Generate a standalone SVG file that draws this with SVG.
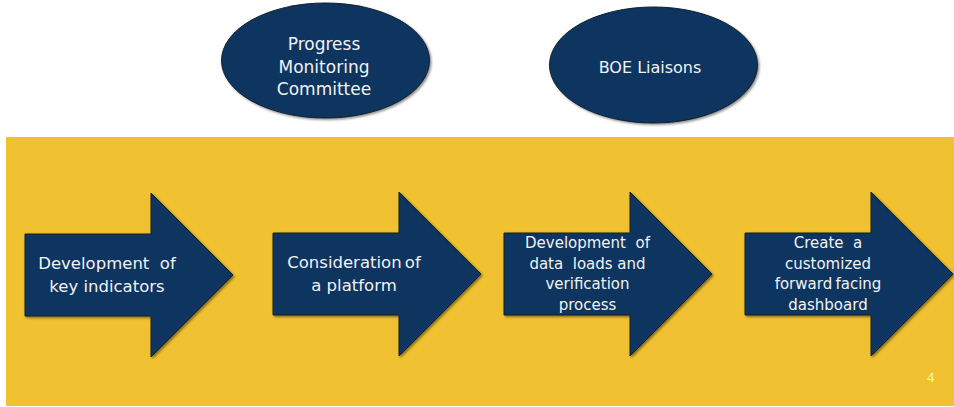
<svg xmlns="http://www.w3.org/2000/svg" width="954" height="407" viewBox="0 0 954 407">
<defs>
<filter id="sh" x="-10%" y="-10%" width="125%" height="125%">
<feDropShadow dx="1.5" dy="1.5" stdDeviation="1.2" flood-color="#000" flood-opacity="0.45"/>
</filter>
<path id="arrow" d="M0 41 H126 V0 L208 82 L126 164 V123 H0 Z"/>
</defs>
<style>
.bg{fill:#F0C131}
.shape{fill:#0A3560;stroke:#14202c;stroke-width:1;filter:url(#sh)}
.t{font-family:"DejaVu Sans","Liberation Sans",sans-serif;fill:#F2F2F2;text-anchor:middle}
.big{font-size:17px}
.small{font-size:15px}
.num{font-family:"DejaVu Sans","Liberation Sans",sans-serif;font-size:13px;fill:#FBEFC4;text-anchor:middle}
</style>
<rect width="954" height="407" fill="#FFFFFF"/>
<rect class="bg" x="6" y="137" width="948" height="269"/>
<g id="connectors"></g>
<g id="node-progress">
<ellipse class="shape" cx="325.5" cy="60.5" rx="104" ry="57.5"/>
<text class="t big" x="324" y="50">Progress</text>
<text class="t big" x="324" y="73">Monitoring</text>
<text class="t big" x="324" y="95">Committee</text>
</g>
<g id="node-boe">
<ellipse class="shape" cx="653.5" cy="65" rx="104" ry="58"/>
<text class="t" style="font-size:16px" x="650" y="73">BOE Liaisons</text>
</g>
<g id="node-indicators">
<use href="#arrow" class="shape" x="25" y="193"/>
<text class="t" style="font-size:16.5px" x="107" y="269" xml:space="preserve">Development  of</text>
<text class="t" style="font-size:16.5px" x="107" y="292">key indicators</text>
</g>
<g id="node-platform">
<use href="#arrow" class="shape" x="273" y="192"/>
<text class="t" style="font-size:16.5px;word-spacing:-2px" x="354" y="268">Consideration of</text>
<text class="t" style="font-size:16.5px" x="354" y="291">a platform</text>
</g>
<g id="node-dataloads">
<use href="#arrow" class="shape" x="504" y="192"/>
<text class="t small" x="587.5" y="248" xml:space="preserve">Development  of</text>
<text class="t small" x="587.5" y="268.5" xml:space="preserve">data  loads and</text>
<text class="t small" x="587.5" y="289">verification</text>
<text class="t small" x="587.5" y="309.5">process</text>
</g>
<g id="node-dashboard">
<use href="#arrow" class="shape" x="745" y="192"/>
<text class="t small" x="828" y="248" xml:space="preserve">Create  a</text>
<text class="t small" x="828" y="268.5">customized</text>
<text class="t small" x="828" y="289" style="word-spacing:-1.5px">forward facing</text>
<text class="t small" x="828" y="309.5">dashboard</text>
</g>
<text class="num" x="931" y="382">4</text>
</svg>
